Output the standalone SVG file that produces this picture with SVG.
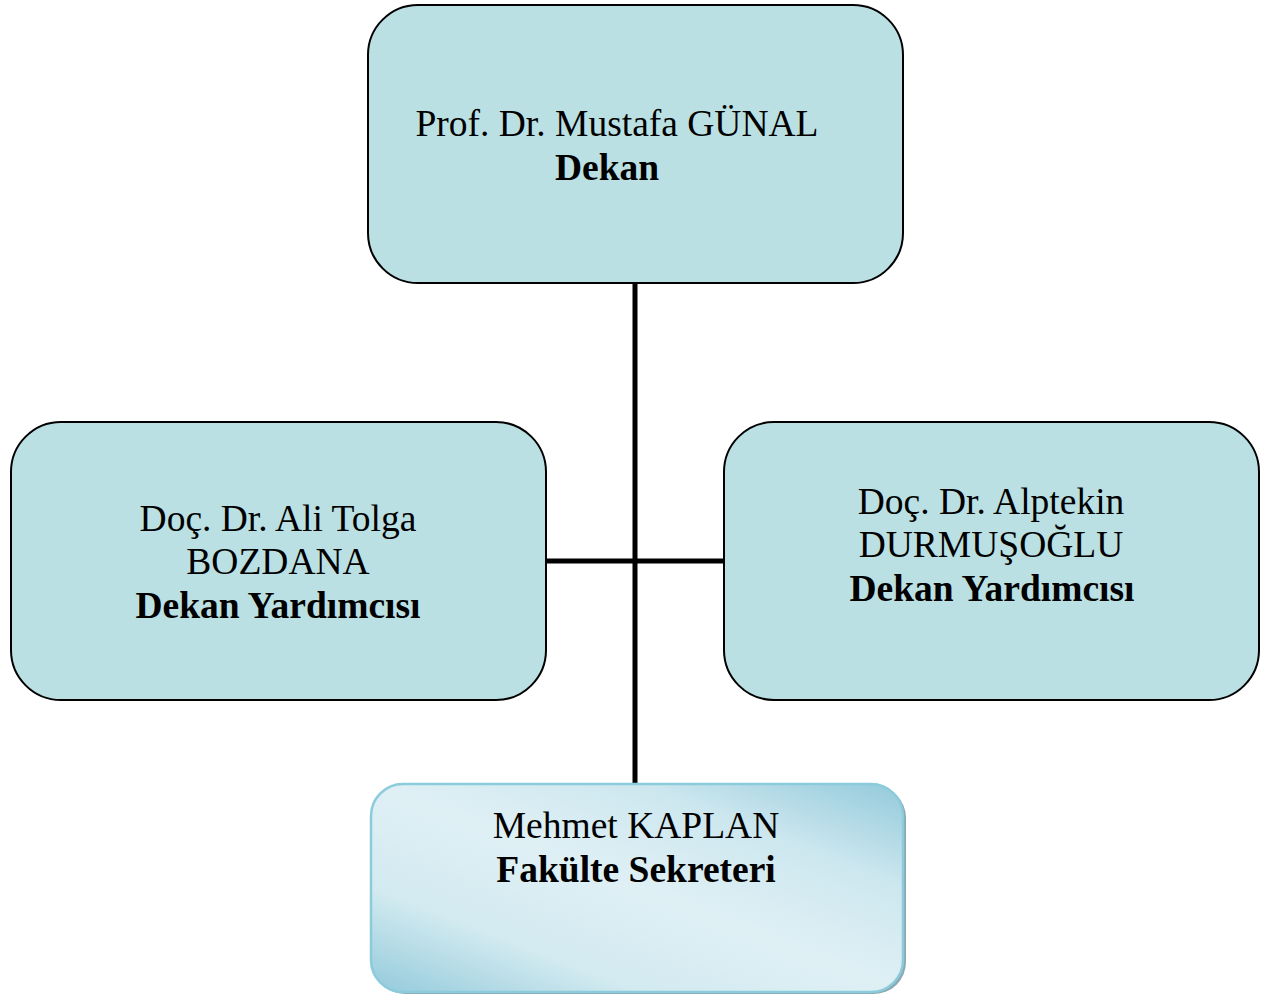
<svg xmlns="http://www.w3.org/2000/svg" width="1262" height="994" viewBox="0 0 1262 994">
<style>
.box{fill:#bae0e3;stroke:#000;stroke-width:2}
.t{font-family:"Liberation Serif","Times New Roman",serif;font-size:37.5px;fill:#000;text-anchor:middle}
.b{font-weight:bold}
.c{stroke:#000;stroke-width:5;fill:none}
</style>
<defs>
<linearGradient id="g" x1="0" y1="1" x2="1" y2="0">
<stop offset="0" stop-color="#93cadb"/>
<stop offset="0.25" stop-color="#d2eaf0"/>
<stop offset="0.5" stop-color="#dff0f5"/>
<stop offset="0.75" stop-color="#cde7ef"/>
<stop offset="1" stop-color="#93cadb"/>
</linearGradient>
</defs>
<rect width="1262" height="994" fill="#fff"/>
<g id="connectors">
<line class="c" x1="635" y1="283" x2="635" y2="784"/>
<line class="c" x1="546" y1="561" x2="723" y2="561"/>
</g>
<g id="dekan">
<rect class="box" x="368" y="5" width="535" height="278" rx="50" ry="50"/>
<text class="t" x="617" y="136">Prof. Dr. Mustafa GÜNAL</text>
<text class="t b" x="607" y="180">Dekan</text>
</g>
<g id="yardimci1">
<rect class="box" x="11" y="422" width="535" height="278" rx="50" ry="50"/>
<text class="t" x="278" y="531">Doç. Dr. Ali Tolga</text>
<text class="t" x="278" y="574">BOZDANA</text>
<text class="t b" x="278" y="618">Dekan Yardımcısı</text>
</g>
<g id="yardimci2">
<rect class="box" x="724" y="422" width="535" height="278" rx="50" ry="50"/>
<text class="t" x="991" y="514">Doç. Dr. Alptekin</text>
<text class="t" x="991" y="557">DURMUŞOĞLU</text>
<text class="t b" x="992" y="601">Dekan Yardımcısı</text>
</g>
<g id="sekreter">
<rect x="373" y="786" width="533" height="208" rx="32" ry="32" fill="#8aa9b3"/>
<rect x="371" y="784" width="532" height="208" rx="32" ry="32" fill="url(#g)" stroke="#8ccbdb" stroke-width="2.5"/>
<text class="t" x="636" y="838">Mehmet KAPLAN</text>
<text class="t b" x="636" y="882">Fakülte Sekreteri</text>
</g>
</svg>
